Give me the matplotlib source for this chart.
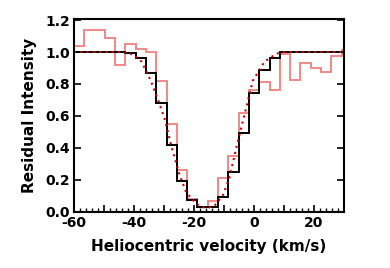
import matplotlib
matplotlib.use("Agg")
import matplotlib.pyplot as plt
from matplotlib.ticker import MultipleLocator

plt.rcParams['axes.unicode_minus'] = False
plt.rcParams['font.family'] = ['DejaVu Sans']

# bin edges (km/s), shared by both histograms; last edge clipped at plot limit
bin_edges = [-60.0, -56.57, -53.14, -49.71, -46.28, -42.85, -39.42, -35.99,
             -32.56, -29.13, -25.70, -22.27, -18.84, -15.41, -11.98, -8.55,
             -5.12, -1.69, 1.74, 5.17, 8.60, 12.03, 15.46, 18.89, 22.32,
             25.75, 29.18, 30.0]

# observed spectrum (light red)
obs_values = [1.04, 1.14, 1.14, 1.09, 0.92, 1.05, 1.02, 1.00, 0.82, 0.55,
              0.26, 0.08, 0.03, 0.065, 0.21, 0.35, 0.62, 0.76, 0.81, 0.76,
              0.985, 0.825, 0.93, 0.90, 0.875, 0.975, 1.01]

# second spectrum (black)
blk_values = [1.0, 1.0, 1.0, 1.0, 1.0, 0.995, 0.96, 0.87, 0.68, 0.42,
              0.19, 0.07, 0.03, 0.03, 0.09, 0.25, 0.49, 0.74, 0.89, 0.965,
              1.0, 1.0, 1.0, 1.0, 1.0, 1.0, 1.0]

# model profile (dotted)
model_v = [-60, -45, -42, -40, -37.5, -34.4, -31.6, -29.6, -27.7, -24.9,
           -22.6, -19.3, -17.1, -15.0, -13.0, -10.4, -8.2, -5.4, -2.6,
           -0.4, 3.5, 7.5, 10, 30]
model_i = [1.0, 1.0, 0.995, 0.98, 0.94, 0.82, 0.68, 0.57, 0.42, 0.235,
           0.12, 0.048, 0.027, 0.025, 0.04, 0.10, 0.21, 0.44, 0.65,
           0.82, 0.94, 0.99, 1.0, 1.0]

x_major = [-60, -50, -40, -30, -20, -10, 0, 10, 20, 30]
x_labels = ['-60', '', '-40', '', '-20', '', '0', '', '20', '']
y_ticks = [0.0, 0.2, 0.4, 0.6, 0.8, 1.0, 1.2]
y_labels = ['0.0', '0.2', '0.4', '0.6', '0.8', '1.0', '1.2']

fig = plt.figure(figsize=(3.9, 2.68), dpi=100)
ax = fig.add_axes([74/390, 1-212/268, (344-74)/390, (212-19)/268])

ax.stairs(obs_values, bin_edges, color='#f08888', lw=1.4, baseline=None)
ax.stairs(blk_values, bin_edges, color='black', lw=1.4, baseline=None)
ax.plot(model_v, model_i, color='#cc0000', lw=1.5, ls=(0, (1, 2)))

ax.set_xlim(-60, 30)
ax.set_ylim(-0.003, 1.207)
ax.set_xticks(x_major)
ax.set_xticklabels(x_labels)
ax.xaxis.set_minor_locator(MultipleLocator(2))
ax.set_yticks(y_ticks)
ax.set_yticklabels(y_labels)
ax.tick_params(axis='both', which='major', direction='in', length=5,
               width=1.2, labelsize=10, pad=3)
ax.tick_params(axis='x', which='minor', direction='in', length=3, width=1)
ax.tick_params(axis='y', which='both', right=True)
for lab in ax.get_xticklabels() + ax.get_yticklabels():
    lab.set_fontweight('bold')
for s in ax.spines.values():
    s.set_linewidth(1.5)

ax.set_xlabel('Heliocentric velocity (km/s)', fontsize=11, fontweight='bold', labelpad=6)
ax.set_ylabel('Residual Intensity', fontsize=11, fontweight='bold', labelpad=6)

fig.savefig('out.png', dpi=100)
